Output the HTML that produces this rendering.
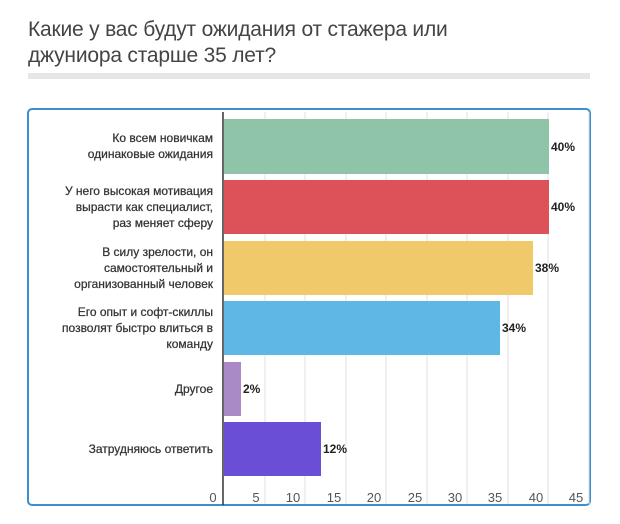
<!DOCTYPE html>
<html><head><meta charset="utf-8"><style>
body{margin:0;width:620px;height:524px;background:#fff;font-family:"Liberation Sans",sans-serif;overflow:hidden;position:relative}
.t{position:absolute;left:28px;top:17px;font-size:21px;line-height:26px;color:#444;letter-spacing:-0.2px}
.g{position:absolute;left:28px;top:73px;width:562px;height:6px;background:#e6e6e6}
.box{position:absolute;left:27px;top:108px;width:564px;height:398px;border:2px solid #3a8fd0;border-radius:5px;box-sizing:border-box}
</style></head><body>
<div class="t">Какие у вас будут ожидания от стажера или<br>джуниора старше 35 лет?</div>
<div class="g"></div>
<div class="box"></div>
<svg width="620" height="524" style="position:absolute;left:0;top:0" font-family="Liberation Sans, sans-serif">
<g stroke="#e2e2e2" stroke-width="1">
<line x1="265" y1="112" x2="265" y2="504"/><line x1="305" y1="112" x2="305" y2="504"/><line x1="346" y1="112" x2="346" y2="504"/><line x1="386" y1="112" x2="386" y2="504"/><line x1="427" y1="112" x2="427" y2="504"/><line x1="467" y1="112" x2="467" y2="504"/><line x1="508" y1="112" x2="508" y2="504"/><line x1="548" y1="112" x2="548" y2="504"/><line x1="589" y1="112" x2="589" y2="504"/>
</g>
<rect x="224" y="119" width="325" height="55" fill="#8fc4a8"/>
<rect x="224" y="180" width="325" height="54" fill="#dc5258"/>
<rect x="224" y="241" width="309" height="54" fill="#efc96a"/>
<rect x="224" y="301" width="276" height="54" fill="#5fb7e5"/>
<rect x="224" y="362" width="17" height="54" fill="#a98ac7"/>
<rect x="224" y="422" width="97" height="54" fill="#6a4fd6"/>
<line x1="223" y1="112" x2="223" y2="505" stroke="#333" stroke-width="1.5"/>
<g font-size="12" font-weight="bold" fill="#222">
<text x="551" y="151">40%</text><text x="551" y="211">40%</text><text x="535" y="272">38%</text><text x="502" y="332">34%</text><text x="243" y="393">2%</text><text x="323" y="453">12%</text>
</g>
<g font-size="12" fill="#333" text-anchor="end" stroke="#333" stroke-width="0.25">
<text x="213" y="142">Ко всем новичкам</text><text x="213" y="158">одинаковые ожидания</text>
<text x="213" y="195">У него высокая мотивация</text><text x="213" y="211">вырасти как специалист,</text><text x="213" y="227">раз меняет сферу</text>
<text x="213" y="256">В силу зрелости, он</text><text x="213" y="272">самостоятельный и</text><text x="213" y="288">организованный человек</text>
<text x="213" y="316">Его опыт и софт-скиллы</text><text x="213" y="332">позволят быстро влиться в</text><text x="213" y="348">команду</text>
<text x="213" y="393">Другое</text>
<text x="213" y="453">Затрудняюсь ответить</text>
</g>
<g font-size="13" fill="#555" text-anchor="middle">
<text x="213" y="502">0</text><text x="256" y="502">5</text><text x="293" y="502">10</text><text x="334" y="502">15</text><text x="374" y="502">20</text><text x="415" y="502">25</text><text x="455" y="502">30</text><text x="495" y="502">35</text><text x="536" y="502">40</text><text x="576" y="502">45</text>
</g>
</svg>
</body></html>
